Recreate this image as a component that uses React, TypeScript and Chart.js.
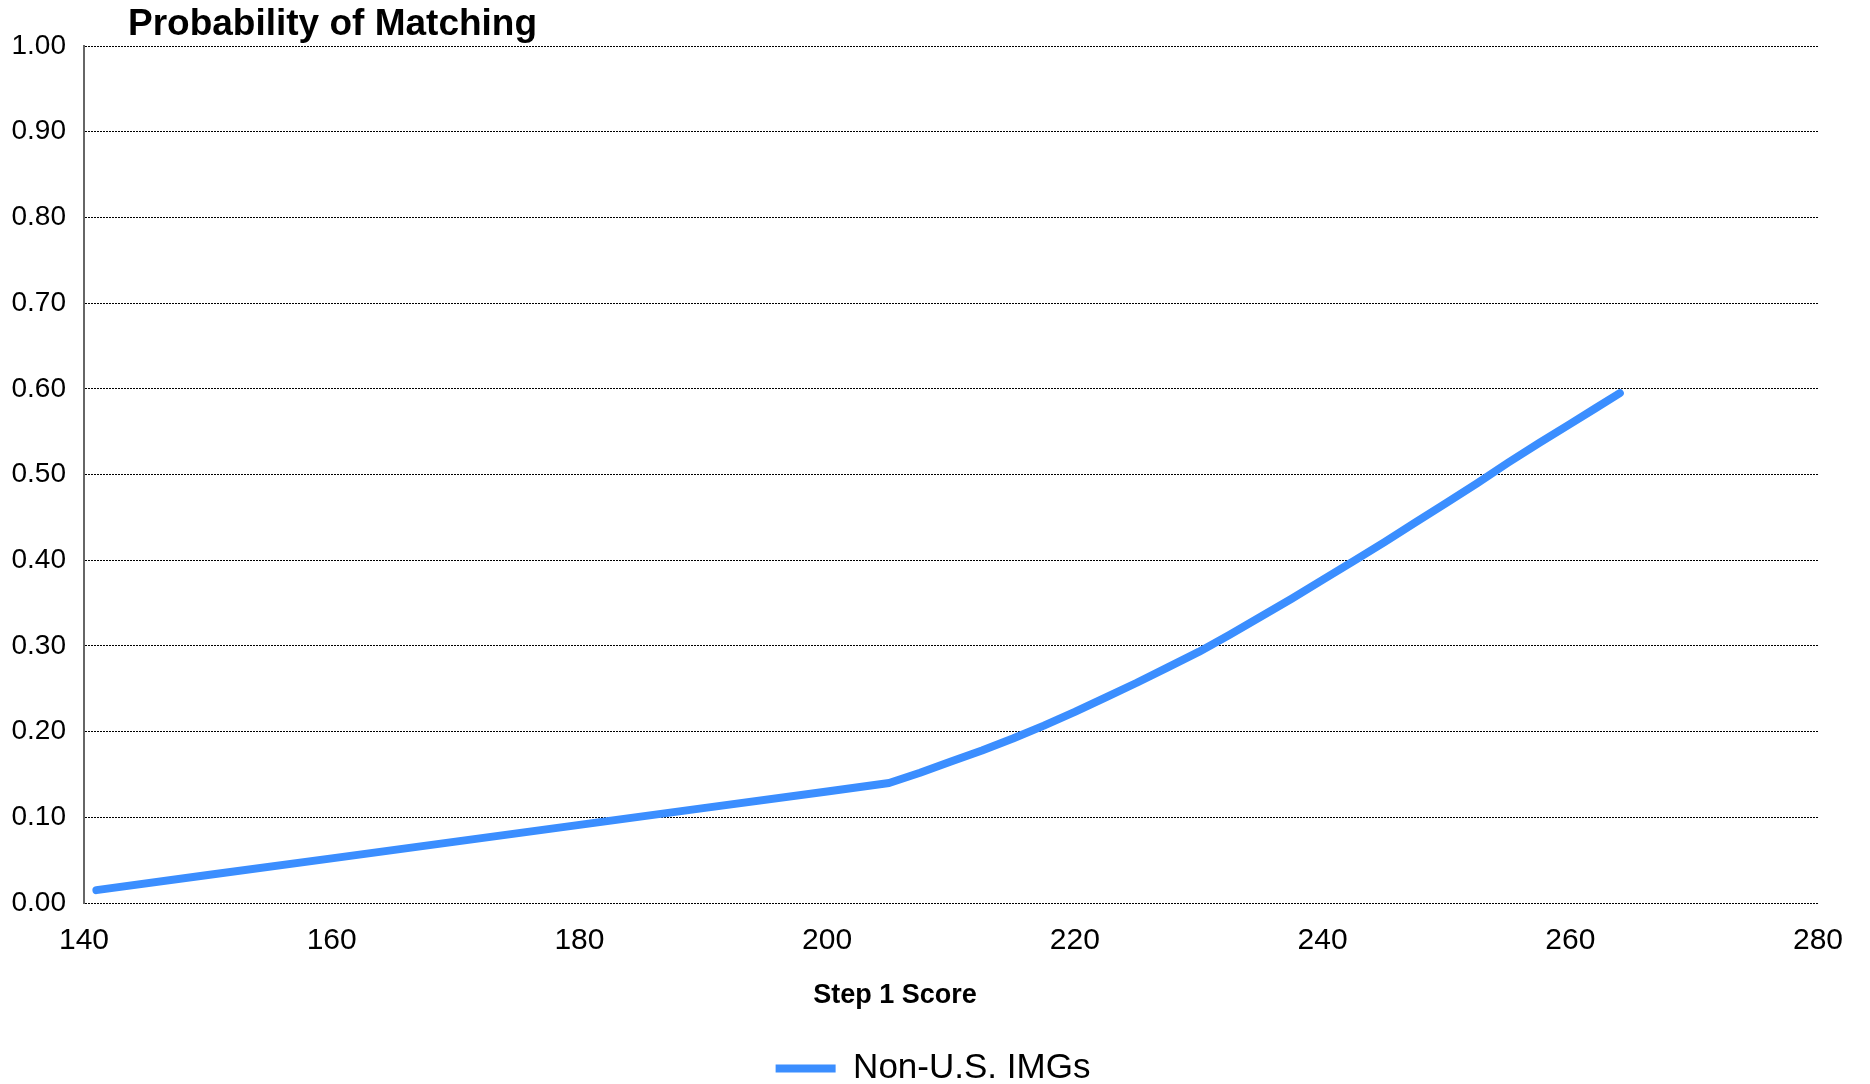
import React, { useEffect, useRef } from "react";
import { Chart, registerables } from "chart.js";

Chart.register(...registerables);

const chartTitle = "Probability of Matching";
const xAxisTitle = "Step 1 Score";
const seriesLabel = "Non-U.S. IMGs";

const scores = [141, 150, 160, 170, 180, 190, 200, 205, 207.5, 210, 212.5, 215, 217.5, 220, 222.5, 225, 227.5, 230, 232.5, 235, 237.5, 240, 242.5, 245, 247.5, 250, 252.5, 255, 257.5, 260, 262, 264];
const probabilities = [0.015, 0.0326, 0.0521, 0.0716, 0.0912, 0.1107, 0.1302, 0.14, 0.152, 0.165, 0.178, 0.192, 0.207, 0.223, 0.24, 0.257, 0.275, 0.293, 0.313, 0.334, 0.355, 0.377, 0.399, 0.421, 0.444, 0.467, 0.49, 0.514, 0.537, 0.559, 0.577, 0.595];

const xMin = 140;
const xMax = 280;
const xStep = 20;
const yMin = 0;
const yMax = 1;
const yStep = 0.1;

const FONT = "'Liberation Sans', Arial, Helvetica, sans-serif";
const LINE_COLOR = "#3b8eff";

export default function App() {
  const canvasRef = useRef<HTMLCanvasElement | null>(null);

  useEffect(() => {
    document.body.style.margin = "0";
    const canvas = canvasRef.current;
    if (!canvas) return;

    const textPlugin = {
      id: "customTexts",
      afterDraw(chart: any) {
        const ctx = chart.ctx;
        ctx.save();
        ctx.fillStyle = "#000";
        ctx.textBaseline = "alphabetic";
        ctx.textAlign = "left";
        ctx.font = `bold 37px ${FONT}`;
        ctx.fillText(chartTitle, 128, 35);
        ctx.textAlign = "center";
        ctx.font = `bold 27px ${FONT}`;
        ctx.fillText(xAxisTitle, 895, 1003);
        ctx.restore();
      },
    };

    const chart = new Chart(canvas, {
      type: "line",
      data: {
        datasets: [
          {
            label: seriesLabel,
            data: scores.map((s, i) => ({ x: s, y: probabilities[i] })),
            borderColor: LINE_COLOR,
            backgroundColor: LINE_COLOR,
            borderWidth: 8,
            borderCapStyle: "round",
            borderJoinStyle: "round",
            pointRadius: 0,
            pointHoverRadius: 0,
            tension: 0,
            fill: false,
            xAxisID: "x",
            yAxisID: "y",
          },
        ],
      },
      options: {
        animation: false,
        responsive: true,
        maintainAspectRatio: false,
        layout: { padding: { top: 46, right: 4, left: 0, bottom: -12 } },
        plugins: {
          title: { display: false },
          tooltip: { enabled: false },
          legend: {
            display: true,
            position: "bottom",
            labels: {
              usePointStyle: true,
              pointStyle: "line",
              pointStyleWidth: 60,
              color: "#000",
              padding: 10,
              font: { family: FONT, size: 35 },
            },
          },
        },
        scales: {
          x: {
            type: "linear",
            min: xMin,
            max: xMax,
            afterFit(scale: any) {
              scale.height = 138;
            },
            ticks: {
              stepSize: xStep,
              color: "#000",
              padding: 20,
              maxRotation: 0,
              font: { family: FONT, size: 30 },
            },
            grid: { display: false, drawTicks: false },
            border: { display: false },
          },
          y: {
            type: "linear",
            position: "left",
            min: yMin,
            max: yMax,
            afterFit(scale: any) {
              scale.width = 84;
            },
            ticks: {
              stepSize: yStep,
              color: "#000",
              padding: 18,
              font: { family: FONT, size: 28 },
              callback: (v: any) => Number(v).toFixed(2),
            },
            grid: {
              display: true,
              color: "#000",
              lineWidth: 1,
              drawTicks: false,
            },
            border: { display: true, color: "#666", width: 2, dash: [2, 1] },
          },
          yRightSpace: {
            type: "linear",
            position: "right",
            display: true,
            min: yMin,
            max: yMax,
            afterFit(scale: any) {
              scale.width = 48;
            },
            ticks: { display: false },
            grid: { display: false, drawTicks: false },
            border: { display: false },
          },
        },
      },
      plugins: [textPlugin],
    } as any);

    return () => chart.destroy();
  }, []);

  return (
    <div style={{ width: "1870px", height: "1084px", position: "relative" }}>
      <canvas ref={canvasRef} />
    </div>
  );
}
